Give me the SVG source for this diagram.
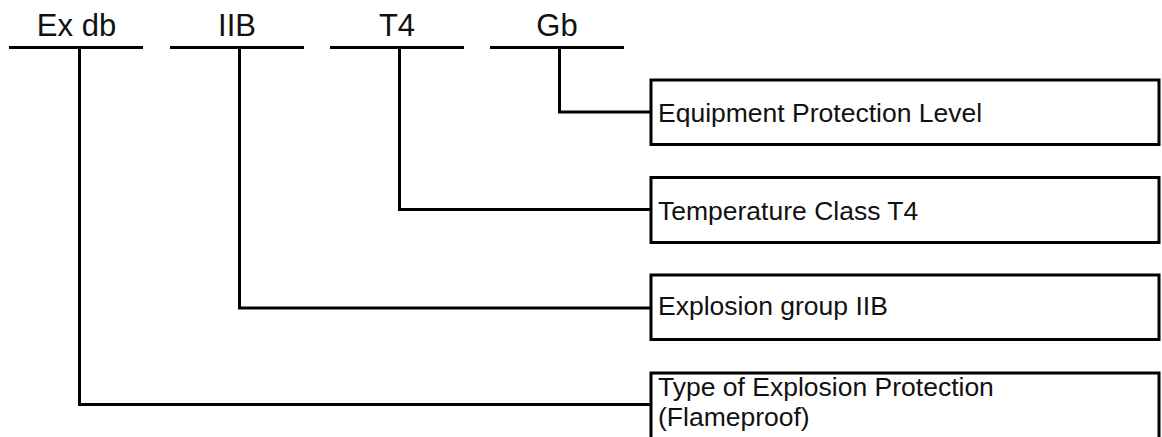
<svg xmlns="http://www.w3.org/2000/svg" width="1162" height="437" viewBox="0 0 1162 437">
<style>
.bg{fill:#ffffff}
.ln{fill:none;stroke:#000;stroke-width:3;stroke-linejoin:miter;stroke-linecap:butt}
.box{fill:#ffffff;stroke:#000;stroke-width:3}
.code{font-family:"Liberation Sans",Arial,sans-serif;font-size:31px;fill:#111;text-anchor:middle}
.lbl{font-family:"Liberation Sans",Arial,sans-serif;font-size:26.5px;fill:#111}
</style>
<rect class="bg" x="0" y="0" width="1162" height="437"/>
<g id="codes">
  <g id="code-exdb"><text class="code" x="76.5" y="36">Ex db</text><line class="ln" x1="9" y1="47.5" x2="143" y2="47.5"/></g>
  <g id="code-iib"><text class="code" x="237" y="36">IIB</text><line class="ln" x1="170" y1="47.5" x2="304" y2="47.5"/></g>
  <g id="code-t4"><text class="code" x="397" y="36">T4</text><line class="ln" x1="330" y1="47.5" x2="464" y2="47.5"/></g>
  <g id="code-gb"><text class="code" x="557" y="36">Gb</text><line class="ln" x1="490" y1="47.5" x2="624" y2="47.5"/></g>
</g>
<g id="connectors">
  <path class="ln" d="M559.5 47.5 V112 H651"/>
  <path class="ln" d="M399.5 47.5 V209.5 H651"/>
  <path class="ln" d="M239.5 47.5 V308 H651"/>
  <path class="ln" d="M79.5 47.5 V404.5 H651"/>
</g>
<g id="box-epl"><rect class="box" x="651" y="80" width="508" height="64.5"/><text class="lbl" x="658" y="121.5">Equipment Protection Level</text></g>
<g id="box-temp"><rect class="box" x="651" y="177.5" width="508" height="65"/><text class="lbl" x="658" y="219.5">Temperature Class T4</text></g>
<g id="box-group"><rect class="box" x="651" y="275" width="508" height="64.5"/><text class="lbl" x="658" y="315">Explosion group IIB</text></g>
<g id="box-type"><rect class="box" x="651" y="373" width="508" height="100"/><text class="lbl" x="658" y="396">Type of Explosion Protection</text><text class="lbl" x="658" y="426">(Flameproof)</text></g>
</svg>
